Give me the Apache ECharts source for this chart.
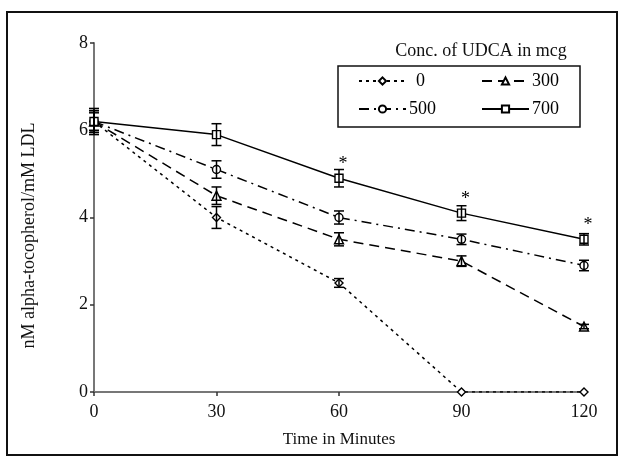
<!DOCTYPE html>
<html>
<head>
<meta charset="utf-8">
<script src="https://cdn.jsdelivr.net/npm/echarts@6/dist/echarts.min.js"></script>
<style>
  html, body { margin: 0; padding: 0; background: #fff; }
  #main { width: 625px; height: 463px; }
</style>
</head>
<body>
<div id="main"></div>
<script>
// data
var times = [0, 30, 60, 90, 120];
var conc0 = [6.2, 4.0, 2.5, 0, 0];
var err0 = [0.2, 0.25, 0.1, 0, 0];
var conc300 = [6.2, 4.5, 3.5, 3.0, 1.5];
var err300 = [0.25, 0.2, 0.15, 0.12, 0.05];
var conc500 = [6.2, 5.1, 4.0, 3.5, 2.9];
var err500 = [0.25, 0.2, 0.15, 0.12, 0.12];
var conc700 = [6.2, 5.9, 4.9, 4.1, 3.5];
var err700 = [0.3, 0.25, 0.2, 0.17, 0.13];
var starTimes = [60, 90, 120];   // significant points on the 700 curve

var FONT = '"Liberation Serif", "DejaVu Serif", serif';

function pairs(vals) {
    var out = [];
    for (var i = 0; i < times.length; i++) out.push([times[i], vals[i]]);
    return out;
}

var errData = [];
[[conc0, err0], [conc300, err300], [conc500, err500], [conc700, err700]].forEach(function (p) {
    for (var i = 0; i < times.length; i++) errData.push([times[i], p[0][i], p[1][i]]);
});

var starData = [];
starTimes.forEach(function (t) {
    var i = times.indexOf(t);
    starData.push([t, conc700[i]]);
});

function lineSeries(name, vals, symbol, dash) {
    return {
        name: name,
        type: 'line',
        data: pairs(vals),
        symbol: symbol,
        symbolSize: symbol == 'triangle' ? 9 : 8,
        itemStyle: {color: '#fff', borderColor: '#000', borderWidth: 1.4},
        lineStyle: {color: '#000', width: 1.5, type: dash},
        z: 3
    };
}

function renderErr(params, api) {
    var x = api.value(0), y = api.value(1), e = api.value(2);
    if (!e) return;
    var top = api.coord([x, y + e]), bot = api.coord([x, y - e]);
    var w = 5, st = {stroke: '#000', lineWidth: 1.5};
    return {
        type: 'group',
        children: [
            {type: 'line', shape: {x1: top[0], y1: top[1], x2: bot[0], y2: bot[1]}, style: st},
            {type: 'line', shape: {x1: top[0] - w, y1: top[1], x2: top[0] + w, y2: top[1]}, style: st},
            {type: 'line', shape: {x1: bot[0] - w, y1: bot[1], x2: bot[0] + w, y2: bot[1]}, style: st}
        ]
    };
}

function renderStar(params, api) {
    var p = api.coord([api.value(0), api.value(1)]);
    return {
        type: 'text',
        x: p[0] + 4,
        y: p[1] - 14,
        style: {text: '*', fill: '#000', font: '18px ' + FONT, align: 'center', verticalAlign: 'middle'}
    };
}

function legendAt(name, left, top, textPad) {
    return {
        data: [name],
        left: left,
        top: top,
        padding: 0,
        itemWidth: 47,
        itemHeight: 9,
        itemGap: 4,
        selectedMode: false,
        textStyle: {color: '#000', fontFamily: FONT, fontSize: 18, padding: [0, 0, 0, textPad]}
    };
}

var myChart = echarts.init(document.getElementById('main'));

var option = {
    animation: false,
    backgroundColor: '#fff',
    grid: {left: 94, right: 41, top: 43, bottom: 71},
    legend: [
        legendAt('0', 358, 72, 5),
        legendAt('300', 481, 72, -2),
        legendAt('500', 358, 100, -2),
        legendAt('700', 481, 100, -2)
    ],
    graphic: [
        {type: 'rect', shape: {x: 7, y: 12, width: 610, height: 443},
            style: {fill: 'none', stroke: '#111', lineWidth: 2}, silent: true},
        {type: 'rect', shape: {x: 338, y: 66, width: 242, height: 61},
            style: {fill: 'none', stroke: '#111', lineWidth: 1.5}, silent: true},
        {type: 'text', x: 481, y: 51,
            style: {text: 'Conc. of UDCA in mcg', fill: '#111', font: '18px ' + FONT,
                align: 'center', verticalAlign: 'middle'}, silent: true}
    ],
    xAxis: {
        type: 'value',
        min: 0, max: 120, interval: 30,
        name: 'Time in Minutes',
        nameLocation: 'middle',
        nameGap: 39,
        nameTextStyle: {color: '#111', fontFamily: FONT, fontSize: 17},
        axisLine: {lineStyle: {color: '#777', width: 2}},
        axisTick: {length: 4, lineStyle: {color: '#333', width: 1.5}},
        axisLabel: {color: '#111', fontFamily: FONT, fontSize: 18, margin: 11},
        splitLine: {show: false}
    },
    yAxis: {
        type: 'value',
        min: 0, max: 8, interval: 2,
        name: 'nM alpha-tocopherol/mM LDL',
        nameLocation: 'middle',
        nameGap: 56,
        nameTextStyle: {color: '#111', fontFamily: FONT, fontSize: 18, padding: [0, 36, 0, 0]},
        axisLine: {show: true, lineStyle: {color: '#777', width: 2}},
        axisTick: {show: true, length: 4, lineStyle: {color: '#333', width: 1.5}},
        axisLabel: {color: '#111', fontFamily: FONT, fontSize: 18, margin: 6},
        splitLine: {show: false}
    },
    series: [
        lineSeries('0', conc0, 'diamond', [3, 4]),
        lineSeries('300', conc300, 'triangle', [10, 6]),
        lineSeries('500', conc500, 'circle', [10, 5, 2, 5]),
        lineSeries('700', conc700, 'rect', 'solid'),
        {type: 'custom', renderItem: renderErr, data: errData, encode: {x: 0, y: 1}, z: 5, silent: true},
        {type: 'custom', renderItem: renderStar, data: starData, encode: {x: 0, y: 1}, z: 5, silent: true}
    ]
};

myChart.setOption(option);
</script>
</body>
</html>
